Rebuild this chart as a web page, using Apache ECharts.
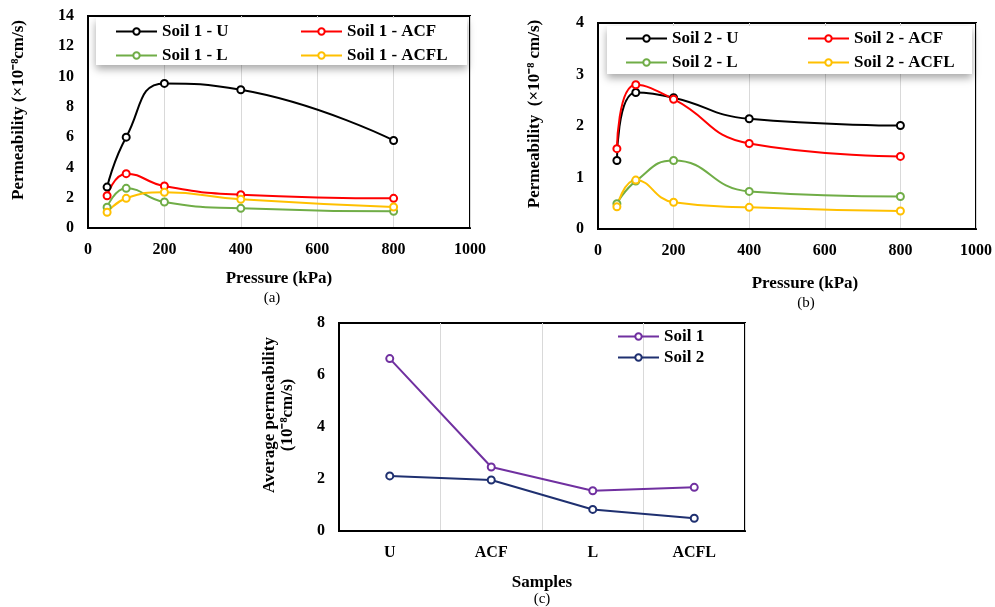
<!DOCTYPE html>
<html>
<head>
<meta charset="utf-8">
<script src="https://cdn.jsdelivr.net/npm/echarts@6/dist/echarts.min.js"></script>
<style>
  html, body { margin: 0; padding: 0; background: #fff; }
  #chart { width: 995px; height: 607px; }
</style>
</head>
<body>
<div id="chart"></div>
<script>
// Consolidation pressure steps (kPa)
const pressures = [50, 100, 200, 400, 800];

// Soil 1 permeability (x10^-8 cm/s)
const soil1U    = [2.70, 6.00, 9.55, 9.13, 5.78];
const soil1ACF  = [2.13, 3.59, 2.77, 2.20, 1.96];
const soil1L    = [1.37, 2.62, 1.72, 1.30, 1.10];
const soil1ACFL = [1.04, 1.96, 2.36, 1.90, 1.39];

// Soil 2 permeability (x10^-8 cm/s)
const soil2U    = [1.33, 2.65, 2.55, 2.14, 2.01];
const soil2ACF  = [1.56, 2.80, 2.52, 1.66, 1.41];
const soil2L    = [0.49, 0.93, 1.33, 0.73, 0.63];
const soil2ACFL = [0.43, 0.95, 0.52, 0.42, 0.35];

// Average permeability per sample type
const samples  = ['U', 'ACF', 'L', 'ACFL'];
const avgSoil1 = [6.63, 2.46, 1.55, 1.68];
const avgSoil2 = [2.12, 1.96, 0.83, 0.49];

const pressureTicks = [0, 200, 400, 600, 800, 1000];

const FONT = "'Liberation Serif', 'Times New Roman', serif";
const GRID_LINE = '#D9D9D9';

function pairs(values) {
  return pressures.map((p, i) => [p, values[i]]);
}

function lineSeries(name, values, color, xIdx, smooth) {
  return {
    name: name,
    type: 'line',
    xAxisIndex: xIdx,
    yAxisIndex: xIdx,
    data: values,
    smooth: smooth,
    symbol: 'emptyCircle',
    symbolSize: 7,
    showSymbol: true,
    lineStyle: { color: color, width: 2 },
    itemStyle: { color: color, borderColor: color, borderWidth: 1.5 },
    emphasis: { disabled: true },
    z: 3
  };
}

function legendCol(names, left, top, gap) {
  return {
    data: names,
    orient: 'vertical',
    left: left,
    top: top,
    padding: 0,
    itemWidth: 41,
    itemHeight: 8,
    itemGap: gap,
    selectedMode: false,
    textStyle: { fontFamily: FONT, fontWeight: 'bold', fontSize: 17, color: '#000' }
  };
}

const tickLabel = { color: '#000', fontFamily: FONT, fontWeight: 'bold', fontSize: 16, margin: 14 };
const plainTick = Object.assign({ formatter: v => String(v) }, tickLabel);
const axisTitle = { color: '#000', fontFamily: FONT, fontWeight: 'bold', fontSize: 17 };
const blackLine = { show: true, onZero: false, lineStyle: { color: '#000', width: 2 } };

function pressureAxis(gridIndex, nameGap, namePad) {
  return {
    type: 'value',
    gridIndex: gridIndex,
    min: pressureTicks[0],
    max: pressureTicks[pressureTicks.length - 1],
    interval: pressureTicks[1] - pressureTicks[0],
    name: 'Pressure (kPa)',
    nameLocation: 'middle',
    nameGap: nameGap,
    nameTextStyle: Object.assign({ padding: namePad }, axisTitle),
    axisLine: blackLine,
    axisTick: { show: false },
    axisLabel: plainTick,
    splitLine: { show: true, lineStyle: { color: GRID_LINE, width: 1 } }
  };
}

function valueAxis(gridIndex, max, interval, name, nameGap) {
  return {
    type: 'value',
    gridIndex: gridIndex,
    min: 0,
    max: max,
    interval: interval,
    name: name,
    nameLocation: 'middle',
    nameRotate: 90,
    nameGap: nameGap,
    nameTextStyle: Object.assign({ padding: [0, 0, 0, 24], lineHeight: 18 }, axisTitle),
    axisLine: blackLine,
    axisTick: { show: false },
    axisLabel: plainTick,
    splitLine: { show: false }
  };
}

const option = {
  backgroundColor: '#fff',
  animation: false,
  grid: [
    { left: 88, top: 16, width: 382, height: 212, show: true, borderColor: '#000', borderWidth: 2, backgroundColor: 'transparent' },
    { left: 598, top: 23, width: 380, height: 206, show: true, borderColor: '#000', borderWidth: 2, backgroundColor: 'transparent' },
    { left: 339, top: 323, width: 406, height: 208, show: true, borderColor: '#000', borderWidth: 2, backgroundColor: 'transparent' }
  ],
  xAxis: [
    pressureAxis(0, 42, [0, 0, 0, 0]),
    pressureAxis(1, 46, [0, 0, 0, 36]),
    {
      type: 'category',
      gridIndex: 2,
      data: samples,
      boundaryGap: true,
      name: 'Samples',
      nameLocation: 'middle',
      nameGap: 43,
      nameTextStyle: axisTitle,
      axisLine: blackLine,
      axisTick: { show: false },
      axisLabel: tickLabel,
      splitLine: { show: true, lineStyle: { color: GRID_LINE, width: 1 } }
    }
  ],
  yAxis: [
    valueAxis(0, 14, 2, 'Permeability (×10⁻⁸cm/s)', 60),
    valueAxis(1, 4, 1, 'Permeability  (×10⁻⁸ cm/s)', 54),
    valueAxis(2, 8, 2, 'Average permeability\n(10⁻⁸cm/s)', 42)
  ],
  legend: [
    legendCol(['Soil 1 - U', 'Soil 1 - L'], 115, 23, 7),
    legendCol(['Soil 1 - ACF', 'Soil 1 - ACFL'], 300, 23, 7),
    legendCol(['Soil 2 - U', 'Soil 2 - L'], 625, 30, 7),
    legendCol(['Soil 2 - ACF', 'Soil 2 - ACFL'], 807, 30, 7),
    legendCol(['Soil 1', 'Soil 2'], 617, 328, 4)
  ],
  title: [
    { text: '(a)', left: 272, top: 291, textAlign: 'center', padding: 0, textStyle: { fontFamily: FONT, fontWeight: 'normal', fontSize: 15, color: '#000' } },
    { text: '(b)', left: 806, top: 296, textAlign: 'center', padding: 0, textStyle: { fontFamily: FONT, fontWeight: 'normal', fontSize: 15, color: '#000' } },
    { text: '(c)', left: 542, top: 592, textAlign: 'center', padding: 0, textStyle: { fontFamily: FONT, fontWeight: 'normal', fontSize: 15, color: '#000' } }
  ],
  graphic: [
    {
      type: 'rect', z: 1,
      shape: { x: 96, y: 18, width: 371, height: 47 },
      style: { fill: '#fff', shadowBlur: 8, shadowOffsetY: 4, shadowColor: 'rgba(0,0,0,0.35)' }
    },
    {
      type: 'rect', z: 1,
      shape: { x: 607, y: 26, width: 365, height: 48 },
      style: { fill: '#fff', shadowBlur: 8, shadowOffsetY: 4, shadowColor: 'rgba(0,0,0,0.35)' }
    }
  ],
  series: [
    lineSeries('Soil 1 - U', pairs(soil1U), '#000000', 0, 0.5),
    lineSeries('Soil 1 - ACF', pairs(soil1ACF), '#FF0000', 0, 0.5),
    lineSeries('Soil 1 - L', pairs(soil1L), '#70AD47', 0, 0.5),
    lineSeries('Soil 1 - ACFL', pairs(soil1ACFL), '#FFC000', 0, 0.5),
    lineSeries('Soil 2 - U', pairs(soil2U), '#000000', 1, 0.5),
    lineSeries('Soil 2 - ACF', pairs(soil2ACF), '#FF0000', 1, 0.5),
    lineSeries('Soil 2 - L', pairs(soil2L), '#70AD47', 1, 0.5),
    lineSeries('Soil 2 - ACFL', pairs(soil2ACFL), '#FFC000', 1, 0.5),
    lineSeries('Soil 1', avgSoil1, '#7030A0', 2, false),
    lineSeries('Soil 2', avgSoil2, '#1F3070', 2, false)
  ]
};

const chart = echarts.init(document.getElementById('chart'), null, { renderer: 'canvas' });
chart.setOption(option);
</script>
</body>
</html>
